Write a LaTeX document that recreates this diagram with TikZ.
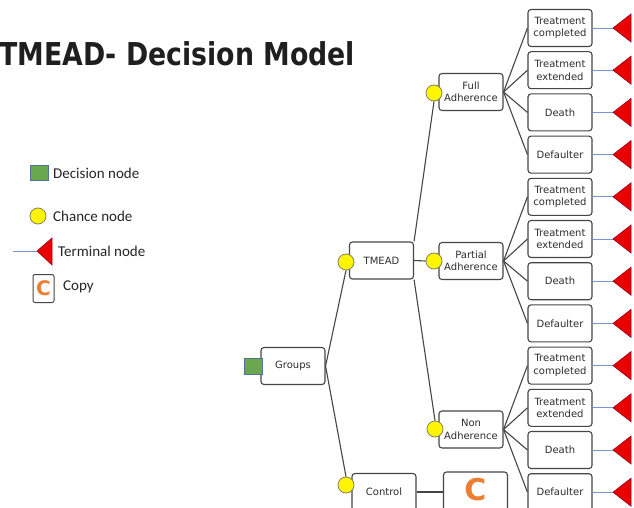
\documentclass[tikz,border=0pt]{standalone}
\usepackage{fontspec}
\setmainfont{DejaVu Sans}
\newfontfamily\legendfont{Carlito}
\definecolor{boxgray}{RGB}{70,70,70}
\definecolor{textgray}{RGB}{45,45,45}
\definecolor{decgreen}{RGB}{106,168,79}
\definecolor{decborder}{RGB}{80,115,150}
\definecolor{chyellow}{RGB}{255,245,0}
\definecolor{chborder}{RGB}{130,130,90}
\definecolor{termred}{RGB}{235,0,0}
\definecolor{termborder}{RGB}{150,0,30}
\definecolor{termblue}{RGB}{120,150,210}
\definecolor{copyorange}{RGB}{237,125,49}
\tikzset{
  treebox/.style={draw=boxgray, line width=1.1pt, rounded corners=3pt, fill=white,
    minimum width=64pt, minimum height=37pt, inner sep=0pt, align=center,
    text=textgray, font=\fontsize{10}{12.5}\selectfont},
  chance/.style={circle, draw=chborder, line width=0.8pt, fill=chyellow, minimum size=16pt, inner sep=0pt},
  decision/.style={draw=decborder, line width=0.8pt, fill=decgreen, minimum width=18pt, minimum height=16pt, inner sep=0pt},
  edge/.style={draw=boxgray, line width=1.1pt},
  termline/.style={draw=termblue, line width=0.8pt},
  termtri/.style={fill=termred, draw=termborder, line width=0.6pt},
  legtext/.style={anchor=west, inner sep=0pt, font=\legendfont\fontsize{15}{18}\selectfont, text=black!85}
}
\begin{document}
\begin{tikzpicture}[x=1pt,y=-1pt]
\useasboundingbox (0,0) rectangle (634,508);
\clip (0,0) rectangle (634,508);
\fill[white] (0,0) rectangle (634,508);

% title
\node[anchor=base west, inner sep=0pt, text=black!88, font=\fontsize{31.5}{36}\selectfont\bfseries] (title) at (-1,66) {\scalebox{0.85}[1]{TMEAD- Decision Model}};

% legend
\node[decision, minimum width=18pt, minimum height=15pt] (ldec) at (39,172.5) {};
\node[legtext] (ldect) at (53,173) {Decision node};
\node[chance] (lch) at (38,216) {};
\node[legtext] (lcht) at (53,216) {Chance node};
\coordinate (ltip) at (37,251);
\coordinate (lstart) at (13,251);
\draw[termline] (lstart) -- (ltip);
\filldraw[termtri] (ltip) -- ++(15,-13) -- ++(0,27) -- cycle;
\node[legtext] (ltermt) at (58,251) {Terminal node};
\node[draw=boxgray, line width=1pt, rounded corners=2pt, minimum width=21pt, minimum height=28pt, inner sep=0pt,
  text=copyorange, font=\fontsize{20}{20}\selectfont\bfseries] (lcopy) at (43.5,288.5) {C};
\node[legtext] (lcopyt) at (63,287) {Copy};

% tree root
\node[treebox] (groups) at (293,366) {Groups};
\node[decision] (gdec) at (253,366) {};

\node[treebox] (tmead) at (381.5,260.5) {TMEAD};
\node[chance] (ctmead) at (346,262) {};
\node[treebox] (control) at (384,492) {Control};
\node[chance] (ccontrol) at (346,485) {};

\draw[edge] (groups.east) -- (ctmead.south);
\draw[edge] (groups.east) -- (ccontrol.north);

\node[treebox] (full) at (471,92) {Full\\Adherence};
\node[chance] (cfull) at (434,93) {};
\node[treebox] (partial) at (471,261) {Partial\\Adherence};
\node[chance] (cpartial) at (434,261) {};
\node[treebox] (non) at (471,429.5) {Non\\Adherence};
\node[chance] (cnon) at (435,429) {};

\draw[edge] (tmead.north east) -- (cfull.south);
\draw[edge] (tmead.east) -- (cpartial.west);
\draw[edge] (tmead.south east) -- (cnon.north);

% copy node
\node[treebox, minimum height=40pt] (copy) at (475.5,492) {};
\node[inner sep=0pt, text=copyorange, font=\fontsize{30}{30}\selectfont\bfseries] (copyc) at (475.5,490) {C};
\draw[edge] (control.east) -- (copy.west);

% outcomes
\foreach \p/\base in {full/28, partial/196.8, non/365.6}{
  \foreach \j/\lab in {0/{Treatment\\completed},1/{Treatment\\extended},2/Death,3/Defaulter}{
    \node[treebox] (\p\j) at (560,{\base+42.2*\j}) {\lab};
    \draw[edge] (\p.east) -- (\p\j.west);
    \coordinate (t\p\j) at (613,{\base+42.2*\j});
    \draw[termline] (\p\j.east) -- (t\p\j);
    \filldraw[termtri] (t\p\j) -- ++(18,-14) -- ++(0,28) -- cycle;
  }
}
\end{tikzpicture}
\end{document}
